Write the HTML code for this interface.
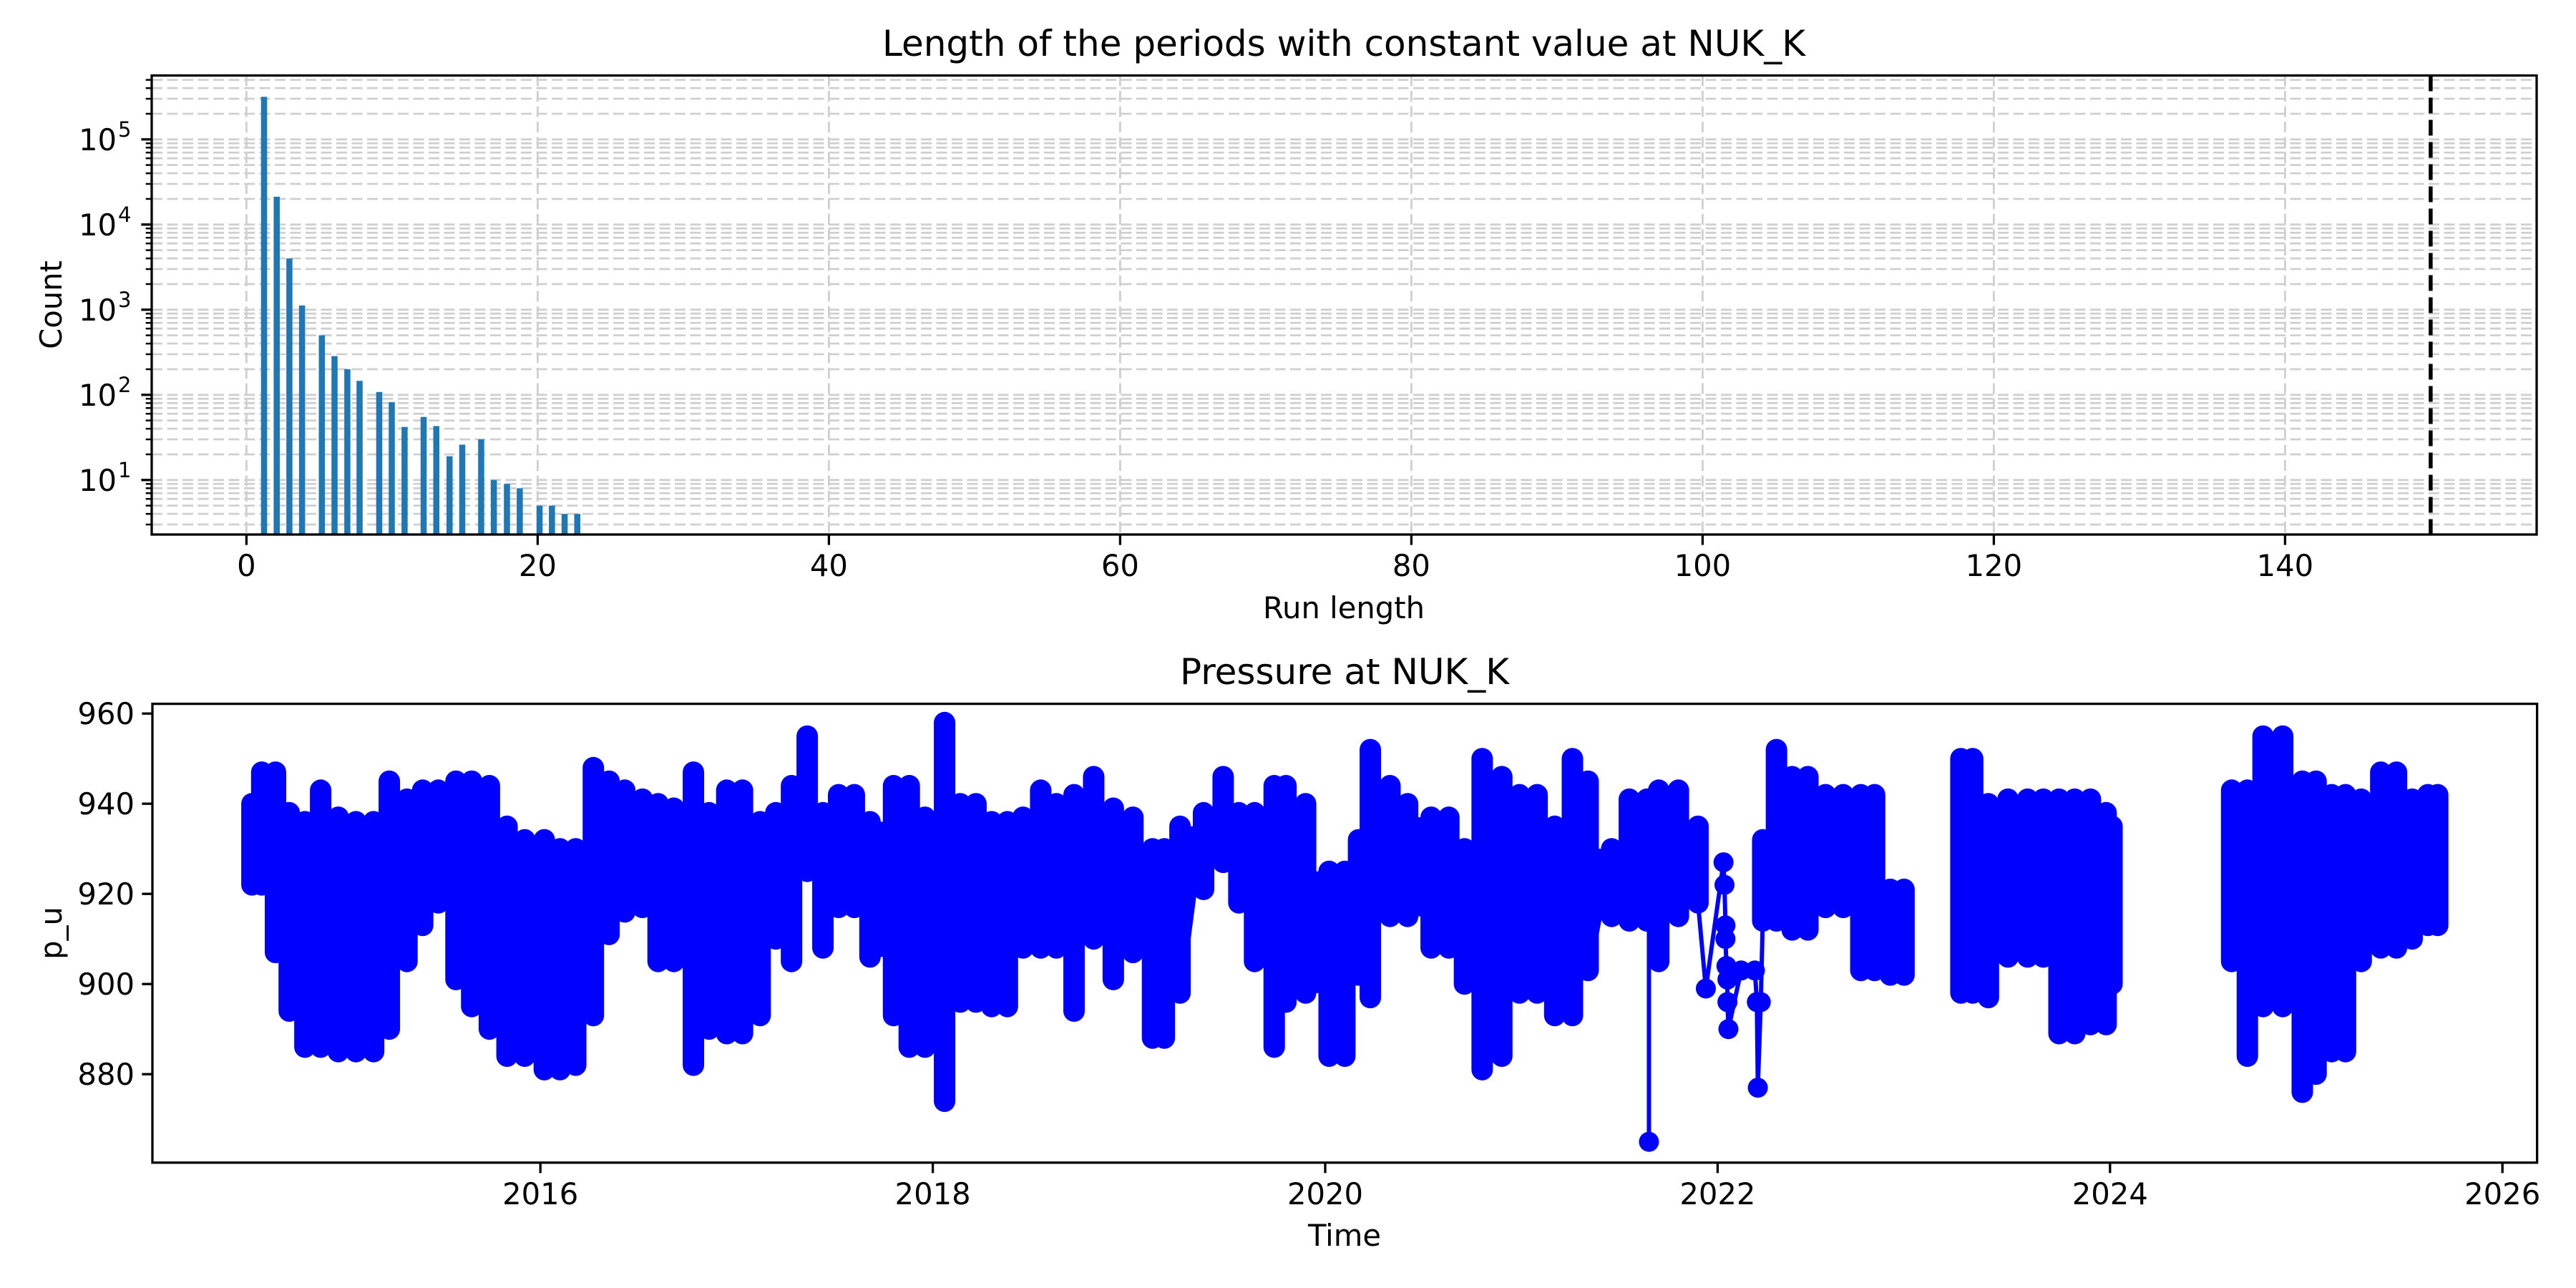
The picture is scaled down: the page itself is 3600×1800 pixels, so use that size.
<!DOCTYPE html>
<html><head><meta charset="utf-8"><style>
html,body{margin:0;padding:0;background:#fff;}
svg{display:block;font-family:"DejaVu Sans","Liberation Sans",sans-serif;}
</style></head><body>
<svg id="fig" width="3600" height="1800" viewBox="0 0 3600 1800" xmlns="http://www.w3.org/2000/svg">
<rect width="3600" height="1800" fill="#fff"/>
<defs>
<clipPath id="clipTop"><rect x="212" y="105.5" width="3333" height="641.5"/></clipPath>
<clipPath id="clipBot"><rect x="213" y="983.6" width="3332.6" height="641.2"/></clipPath>
</defs>
<g id="topchart"></g>
<g id="botchart"></g>
<text x="1878" y="78" font-size="50" text-anchor="middle">Length of the periods with constant value at NUK_K</text>
<text x="1878" y="864" font-size="41.7" text-anchor="middle">Run length</text>
<text x="0" y="0" font-size="41.7" text-anchor="middle" transform="translate(86,426) rotate(-90)">Count</text>
<text x="1879" y="956" font-size="50" text-anchor="middle">Pressure at NUK_K</text>
<text x="1879" y="1741" font-size="41.7" text-anchor="middle">Time</text>
<text x="0" y="0" font-size="41.7" text-anchor="middle" transform="translate(86,1304) rotate(-90)">p_u</text>
</svg>
<script>
// ---- top chart data ----
const binStarts = [1.0,1.87,2.74,3.61,4.97,5.84,6.72,7.56,8.91,9.77,10.65,11.96,12.83,13.74,14.61,15.91,16.78,17.68,18.56,19.92,20.77,21.64,22.51];
const binCounts = [316000,21200,4000,1120,500,285,200,146,108,82,42,55,43,19,26,30,10,9,8,5,5,4,4];
const barWidth = 0.42;
const runXTicks = [0,20,40,60,80,100,120,140];
const countDecades = [1,2,3,4,5];
const thresholdRun = 150;

// ---- bottom chart data ----
const denseYears = [2014.53,2014.58,2014.65,2014.72,2014.8,2014.88,2014.97,2015.06,2015.15,2015.23,2015.32,2015.4,2015.48,2015.57,2015.65,2015.74,2015.83,2015.92,2016.02,2016.1,2016.18,2016.27,2016.35,2016.43,2016.52,2016.6,2016.68,2016.78,2016.86,2016.95,2017.03,2017.12,2017.2,2017.28,2017.36,2017.44,2017.52,2017.6,2017.68,2017.8,2017.88,2017.96,2018.06,2018.14,2018.22,2018.3,2018.38,2018.46,2018.55,2018.63,2018.72,2018.82,2018.92,2019.02,2019.12,2019.18,2019.26,2019.38,2019.48,2019.56,2019.64,2019.74,2019.8,2019.9,2020.02,2020.1,2020.17,2020.23,2020.33,2020.42,2020.54,2020.63,2020.71,2020.8,2020.9,2020.99,2021.08,2021.17,2021.26,2021.34,2021.46,2021.55,2021.64,2021.7,2021.8,2021.9,
2022.23,2022.3,2022.38,2022.46,2022.55,2022.64,2022.73,2022.8,2022.88,2022.95,
2023.24,2023.3,2023.38,2023.48,2023.58,2023.66,2023.74,2023.82,2023.9,2023.98,2024.01,
2024.62,2024.7,2024.78,2024.88,2024.98,2025.05,2025.13,2025.2,2025.28,2025.38,2025.46,2025.54,2025.62,2025.67];
const denseHigh = [940,947,947,938,936,943,937,936,936,945,941,943,943,945,945,944,935,932,932,930,930,948,945,943,941,940,939,947,938,943,943,936,938,944,955,938,942,942,936,944,944,937,958,940,940,936,936,937,943,940,942,946,939,937,930,930,935,938,946,938,938,944,944,940,925,925,932,952,944,940,937,937,930,950,946,942,942,935,950,945,930,941,941,943,943,935,
932,952,946,946,942,942,942,942,921,921,
950,950,940,941,941,941,941,941,941,938,935,
943,943,955,955,945,945,942,942,941,947,947,941,942,942];
const denseLow = [922,922,907,894,886,886,885,885,885,890,905,913,918,901,895,890,884,884,881,881,882,893,911,916,917,905,905,882,890,889,889,893,910,905,925,908,917,917,906,893,886,886,874,896,896,895,895,908,908,908,894,910,901,907,888,888,898,921,927,918,905,886,896,898,884,884,902,897,915,915,908,908,900,881,884,898,898,893,893,903,915,914,914,905,915,918,
914,914,912,912,917,917,903,903,902,902,
898,898,897,906,906,906,889,889,891,891,900,
905,884,895,895,876,880,885,885,905,908,908,910,913,913];
const sparseYears = [2021.9,2021.94,2022.03,2022.035,2022.04,2022.04,2022.045,2022.05,2022.05,2022.055,2022.12,2022.19,2022.2,2022.205,2022.22,2022.23];
const sparseValues = [918,899,927,922,913,910,904,901,896,890,903,903,896,877,896,914];
const spikeYears = [2021.65];
const spikeValues = [865];
const timeTicks = [2016,2018,2020,2022,2024,2026];
const pressureTicks = [880,900,920,940,960];

const NS = "http://www.w3.org/2000/svg";
function mk(parent, tag, attrs){ const e=document.createElementNS(NS,tag); for(const k in attrs) e.setAttribute(k,attrs[k]); parent.appendChild(e); return e; }

// ---- top axes ----
const T = {l:212, r:3545, t:105.5, b:747};
const xRun = v => 344.4 + v*20.35;
const yCnt = v => 194.8 - (Math.log10(v)-5)*119;
const topG = document.getElementById('topchart');
const gridTop = mk(topG,'g',{'clip-path':'url(#clipTop)'});


for(let dd=0; dd<=5; dd++){
  for(let m=1; m<=9; m++){
    const v = m*Math.pow(10,dd);
    const y = yCnt(v);
    if(y<T.t||y>T.b) continue;
    const gl = mk(gridTop,'line',{x1:T.l,x2:T.r,y1:y,y2:y,stroke:'#cfcfcf','stroke-width':2.8,'stroke-dasharray':'15,6.5'});
    
    
    const tk = mk(topG,'line',{x1:T.l-(m===1?14.6:8.3),x2:T.l,y1:y,y2:y,stroke:'#000','stroke-width':m===1?3.3:2.5});
    
    
  }
}
runXTicks.forEach(v=>{
  const x = xRun(v);
  const gl = mk(gridTop,'line',{x1:x,x2:x,y1:T.t,y2:T.b,stroke:'#cfcfcf','stroke-width':2.8,'stroke-dasharray':'15,6.5'});
  
  
  const tk = mk(topG,'line',{x1:x,x2:x,y1:T.b,y2:T.b+14.6,stroke:'#000','stroke-width':3.3});
  
  
  const lb = mk(topG,'text',{x:x,y:T.b+58,'font-size':41.7,'text-anchor':'middle'});
  lb.textContent = String(v);
  
  
});
countDecades.forEach(dd=>{
  const y = yCnt(Math.pow(10,dd));
  const lb = mk(topG,'text',{x:163,y:y+15,'font-size':41.7,'text-anchor':'end'});
  lb.textContent = '10';
  
  
  const ex = mk(topG,'text',{x:165,y:y-4,'font-size':29,'text-anchor':'start'});
  ex.textContent = String(dd);
  
  
});
const barsG = mk(topG,'g',{'clip-path':'url(#clipTop)'});
binStarts.forEach((x0,i)=>{
  const x1 = xRun(x0), x2 = xRun(x0+barWidth);
  const y = yCnt(binCounts[i]);
  const r = mk(barsG,'rect',{x:x1,y:y,width:x2-x1,height:T.b+5-y,fill:'#1f77b4'});
  
  
});
const th = mk(topG,'line',{x1:xRun(thresholdRun),x2:xRun(thresholdRun),y1:T.t,y2:T.b,stroke:'#000','stroke-width':5.5,'stroke-dasharray':'22,9'});


const frT = mk(topG,'rect',{x:T.l,y:T.t,width:T.r-T.l,height:T.b-T.t,fill:'none',stroke:'#000','stroke-width':3.3});



// ---- bottom axes ----
const B = {l:213, r:3545.6, t:983.6, b:1624.8};
const xTime = y => 755.2 + (y-2016)*274.2;
const yPres = v => 997.2 - (v-960)*6.3;
const botG = document.getElementById('botchart');
const dataG = mk(botG,'g',{'clip-path':'url(#clipBot)'});


const BLUE = '#0000ff';
spikeYears.forEach((yr,i)=>{
  const x = xTime(yr);
  const l = mk(dataG,'line',{x1:x,x2:x,y1:yPres(915),y2:yPres(spikeValues[i]),stroke:BLUE,'stroke-width':6});
  
  
  const c = mk(dataG,'circle',{cx:x,cy:yPres(spikeValues[i]),r:14,fill:BLUE});
  
  
});
let spPath = '';
sparseYears.forEach((yr,i)=>{ spPath += (i?'L':'M')+xTime(yr)+','+yPres(sparseValues[i]); });
const spl = mk(dataG,'path',{d:spPath,stroke:BLUE,'stroke-width':6,fill:'none'});


sparseYears.forEach((yr,i)=>{
  const c = mk(dataG,'circle',{cx:xTime(yr),cy:yPres(sparseValues[i]),r:14,fill:BLUE});
  
  
});
let dPath = '';
denseYears.forEach((yr,i)=>{
  const x = xTime(yr);
  const brk = i===0 || (yr - denseYears[i-1]) > 0.25;
  dPath += (brk?'M':'L')+x+','+yPres(denseHigh[i])+'L'+x+','+yPres(denseLow[i]);
});
const dl = mk(dataG,'path',{d:dPath,stroke:BLUE,'stroke-width':10,fill:'none','stroke-linejoin':'round'});


denseYears.forEach((yr,i)=>{
  const x = xTime(yr);
  const col = mk(dataG,'line',{x1:x,x2:x,y1:yPres(denseHigh[i]),y2:yPres(denseLow[i]),stroke:BLUE,'stroke-width':30,'stroke-linecap':'round'});
  
  
  if(i>0 && (yr-denseYears[i-1])<=0.25){
    const x0 = xTime(denseYears[i-1]);
    const top2 = Math.min(denseHigh[i],denseHigh[i-1]);
    const low2 = Math.max(denseLow[i],denseLow[i-1]);
    const f = mk(dataG,'rect',{x:x0,y:yPres(top2),width:x-x0,height:yPres(low2)-yPres(top2),fill:BLUE});
    
    
  }
});
pressureTicks.forEach(v=>{
  const y = yPres(v);
  const tk = mk(botG,'line',{x1:B.l-14.6,x2:B.l,y1:y,y2:y,stroke:'#000','stroke-width':3.3});
  
  
  const lb = mk(botG,'text',{x:B.l-25,y:y+15,'font-size':41.7,'text-anchor':'end'});
  lb.textContent = String(v);
  
  
});
timeTicks.forEach(v=>{
  const x = xTime(v);
  const tk = mk(botG,'line',{x1:x,x2:x,y1:B.b,y2:B.b+14.6,stroke:'#000','stroke-width':3.3});
  
  
  const lb = mk(botG,'text',{x:x,y:B.b+58,'font-size':41.7,'text-anchor':'middle'});
  lb.textContent = String(v);
  
  
});
const frB = mk(botG,'rect',{x:B.l,y:B.t,width:B.r-B.l,height:B.b-B.t,fill:'none',stroke:'#000','stroke-width':3.3});


</script>
</body></html>
